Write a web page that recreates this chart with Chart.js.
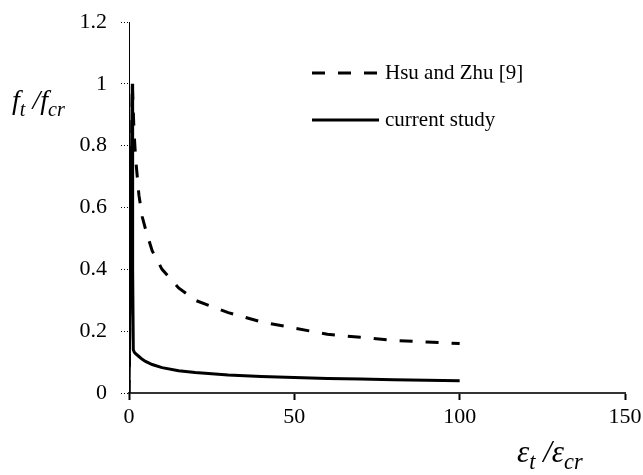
<!DOCTYPE html>
<html>
<head>
<meta charset="utf-8">
<script src="https://cdn.jsdelivr.net/npm/chart.js@4"></script>
<style>
  html, body { margin: 0; padding: 0; background: #fff; }
  #wrap { width: 643px; height: 475px; }
</style>
</head>
<body>
<div id="wrap"><canvas id="chart" width="643" height="475"></canvas></div>
<script>
// values
const hsuX = [0, 1, 1.5, 2, 3, 4, 5, 7, 10, 15, 20, 25, 30, 40, 50, 60, 70, 80, 90, 100];
const hsuY = [0, 1, 0.85, 0.76, 0.64, 0.57, 0.53, 0.46, 0.40, 0.34, 0.30, 0.28, 0.26, 0.23, 0.21, 0.19, 0.18, 0.17, 0.165, 0.16];

const currentX = [0, 1, 1.1, 1.3, 1.6, 2, 3, 4, 5, 7, 10, 15, 20, 30, 40, 50, 60, 70, 80, 90, 100];
const currentY = [0, 1, 0.4, 0.14, 0.132, 0.127, 0.118, 0.109, 0.102, 0.092, 0.082, 0.072, 0.066, 0.058, 0.053, 0.05, 0.047, 0.045, 0.043, 0.041, 0.04];

const seriesNames = ["Hsu and Zhu [9]", "current study"];

const serif = "'Liberation Serif', 'DejaVu Serif', serif";

function toPoints(xs, ys) {
  return xs.map((x, i) => ({ x: x, y: ys[i] }));
}

// draws text pieces with subscripts, starting at x
function drawSubText(ctx, parts, x, y, size) {
  parts.forEach(([txt, sub]) => {
    ctx.font = "italic " + (sub ? size * 0.72 : size) + "px " + serif;
    ctx.fillText(txt, x, sub ? y + size * 0.3 : y);
    x += ctx.measureText(txt).width;
  });
}

const extras = {
  id: "extras",
  afterDraw(chart) {
    const ctx = chart.ctx;
    ctx.save();
    ctx.fillStyle = "#000";
    ctx.textBaseline = "middle";
    ctx.textAlign = "left";

    // axis titles
    drawSubText(ctx, [["f", false], ["t", true], [" /", false], ["f", false], ["cr", true]], 12, 102, 28);
    drawSubText(ctx, [["\u03b5", false], ["t", true], [" /\u03b5", false], ["cr", true]], 517, 454, 31);

    // legend
    ctx.strokeStyle = "#000";
    ctx.lineWidth = 3;
    ctx.setLineDash([13, 13]);
    ctx.beginPath();
    ctx.moveTo(312, 73);
    ctx.lineTo(380, 73);
    ctx.stroke();
    ctx.setLineDash([]);
    ctx.beginPath();
    ctx.moveTo(312, 120);
    ctx.lineTo(379, 120);
    ctx.stroke();

    ctx.font = "21px " + serif;
    ctx.fillText(seriesNames[0], 385, 73);
    ctx.fillText(seriesNames[1], 385, 120);
    ctx.restore();
  }
};

new Chart(document.getElementById("chart"), {
  type: "scatter",
  data: {
    datasets: [
      {
        label: seriesNames[0],
        data: toPoints(hsuX, hsuY),
        showLine: true,
        borderColor: "#000",
        borderWidth: 3,
        borderDash: [13, 13],
        pointRadius: 0,
        tension: 0,
      },
      {
        label: seriesNames[1],
        data: toPoints(currentX, currentY),
        showLine: true,
        borderColor: "#000",
        borderWidth: 3,
        pointRadius: 0,
        tension: 0,
      },
    ],
  },
  options: {
    responsive: false,
    animation: false,
    layout: { padding: { top: 22, right: 18, left: 0, bottom: 0 } },
    plugins: {
      legend: { display: false },
      tooltip: { enabled: false },
    },
    scales: {
      x: {
        type: "linear",
        min: 0,
        max: 150,
        ticks: { stepSize: 50, color: "#000", font: { family: serif, size: 22 }, padding: 4, maxRotation: 0 },
        grid: { drawOnChartArea: false, tickLength: 7, tickColor: "#000", tickWidth: 2 },
        border: { color: "#333", width: 2 },
        afterFit: (s) => { s.height = 82; s.paddingLeft = 0; s.paddingRight = 0; },
      },
      y: {
        min: 0,
        max: 1.2,
        ticks: {
          stepSize: 0.2,
          color: "#000",
          font: { family: serif, size: 22 },
          padding: 14,
          callback: (v) => String(Math.round(v * 10) / 10),
        },
        grid: { drawOnChartArea: false, tickLength: 8, tickColor: "#000", tickBorderDash: [1, 2] },
        border: { color: "#000", width: 1, dash: [1, 1] },
        afterFit: (s) => { s.width = 129; s.paddingTop = 0; s.paddingBottom = 0; },
      },
    },
  },
  plugins: [extras],
});
</script>
</body>
</html>
